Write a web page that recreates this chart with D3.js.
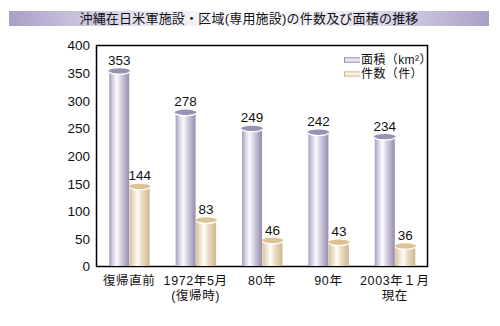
<!DOCTYPE html>
<html><head><meta charset="utf-8">
<script src="https://cdn.jsdelivr.net/npm/d3@7"></script>
<style>
html,body{margin:0;padding:0;background:#fff;}
text{font-family:"Liberation Sans","Noto Sans CJK JP",sans-serif;fill:#111;}
</style></head>
<body>
<svg id="c" width="500" height="326"></svg>
<script>
const title = "沖縄在日米軍施設・区域(専用施設)の件数及び面積の推移";
const categories = [["復帰直前"], ["1972年5月", "(復帰時)"], ["80年"], ["90年"], ["2003年１月", "現在"]];
const areaValues = [353, 278, 249, 242, 234];
const countValues = [144, 83, 46, 43, 36];
const yTicks = [0, 50, 100, 150, 200, 250, 300, 350, 400];
const legendLabels = ["面積（km²）", "件数（件）"];

(function () {
const svg = d3.select("#c");
const defs = svg.append("defs");
const FONT = "'Liberation Sans','Noto Sans CJK JP',sans-serif";

function hGrad(id, stops) {
  const g = defs.append("linearGradient").attr("id", id).attr("x1", "0").attr("x2", "1").attr("y1", "0").attr("y2", "0");
  stops.forEach(s => g.append("stop").attr("offset", s[0]).attr("stop-color", s[1]));
}
function vGrad(id, stops) {
  const g = defs.append("linearGradient").attr("id", id).attr("x1", "0").attr("x2", "0").attr("y1", "0").attr("y2", "1");
  stops.forEach(s => g.append("stop").attr("offset", s[0]).attr("stop-color", s[1]));
}
hGrad("titleG", [["0", "#aa9fc8"], ["0.3", "#ebe8f3"], ["0.5", "#ffffff"], ["0.7", "#ebe8f3"], ["1", "#aa9fc8"]]);
hGrad("areaG", [["0", "#a79fbf"], ["0.2", "#d9d4e5"], ["0.38", "#fcfbff"], ["0.6", "#d4cee0"], ["1", "#958cae"]]);
hGrad("countG", [["0", "#d6c09c"], ["0.2", "#ede2cd"], ["0.4", "#fffdf8"], ["0.62", "#eadcc3"], ["1", "#d0b78c"]]);
vGrad("legA", [["0", "#a79fbf"], ["0.5", "#f6f4fa"], ["1", "#a79fbf"]]);
vGrad("legC", [["0", "#e0c9a0"], ["0.5", "#fbf6ec"], ["1", "#e0c9a0"]]);

// Title bar
svg.append("rect").attr("x", 9).attr("y", 11).attr("width", 480).attr("height", 15).attr("fill", "url(#titleG)");
svg.append("text").attr("x", 249).attr("y", 23).attr("text-anchor", "middle").attr("font-size", 13).attr("letter-spacing", 0.2).text(title);

const pLeft = 96, pRight = 428, pTop = 45, pBottom = 266;
const x = d3.scaleBand().domain(d3.range(categories.length)).range([pLeft, pRight]);
const y = d3.scaleLinear().domain([0, 400]).range([pBottom, pTop]);
const bw = 20;

// Axis labels
const yAxis = d3.axisLeft(y).tickValues(yTicks).tickSize(0).tickPadding(6);
const ya = svg.append("g").attr("transform", `translate(${pLeft},0)`).call(yAxis);
ya.select(".domain").remove();
ya.selectAll("text").attr("font-size", 13.5).attr("fill", "#111").attr("font-family", FONT).attr("dy", "0.36em");

// Frame
svg.append("rect").attr("x", pLeft + 0.5).attr("y", pTop + 0.5).attr("width", pRight - pLeft - 1).attr("height", pBottom - pTop)
  .attr("fill", "none").attr("stroke", "#000").attr("stroke-width", 1.5);

function cylinder(g, x0, v, fillId, capColor) {
  const yt = y(v);
  g.append("rect").attr("x", x0).attr("y", yt).attr("width", bw).attr("height", pBottom - yt).attr("fill", `url(#${fillId})`);
  const cx = x0 + bw / 2, rx = bw / 2 + 1, ry = 2.8;
  g.append("ellipse").attr("cx", cx).attr("cy", yt).attr("rx", rx).attr("ry", ry).attr("fill", capColor);
  g.append("path").attr("d", `M${cx - rx + 1},${yt + 0.5} A${rx - 1},${ry} 0 0 0 ${cx + rx - 1},${yt + 0.5}`)
    .attr("fill", "none").attr("stroke", "#fff").attr("stroke-width", 1.1);
}

const bars = svg.append("g");
categories.forEach((c, i) => {
  const cx = x(i) + x.bandwidth() / 2;
  const xa = cx - bw, xc = cx + 0.5;
  cylinder(bars, xa, areaValues[i], "areaG", "#9b92b3");
  cylinder(bars, xc, countValues[i], "countG", "#dcc294");
  bars.append("text").attr("x", xa + bw / 2).attr("y", y(areaValues[i]) - 6).attr("text-anchor", "middle").attr("font-size", 13.5).text(areaValues[i]);
  bars.append("text").attr("x", xc + bw / 2).attr("y", y(countValues[i]) - 6).attr("text-anchor", "middle").attr("font-size", 13.5).text(countValues[i]);
  c.forEach((line, j) => {
    svg.append("text").attr("x", cx).attr("y", 285 + j * 14.5).attr("text-anchor", "middle").attr("font-size", 12.5).attr("letter-spacing", 0.6).text(line);
  });
});

// Legend
const legFills = ["legA", "legC"];
const legEdge = ["#9b92b3", "#dcb27a"];
legendLabels.forEach((l, i) => {
  const ly = 60 + i * 14;
  svg.append("rect").attr("x", 344).attr("y", ly - 3).attr("width", 16).attr("height", 6).attr("fill", `url(#${legFills[i]})`);
  svg.append("rect").attr("x", 344).attr("y", ly - 3).attr("width", 1).attr("height", 6).attr("fill", legEdge[i]);
  svg.append("text").attr("x", 361).attr("y", ly + 4.3).attr("font-size", 12).attr("letter-spacing", 0.4).text(l);
});
})();
</script>
</body></html>
